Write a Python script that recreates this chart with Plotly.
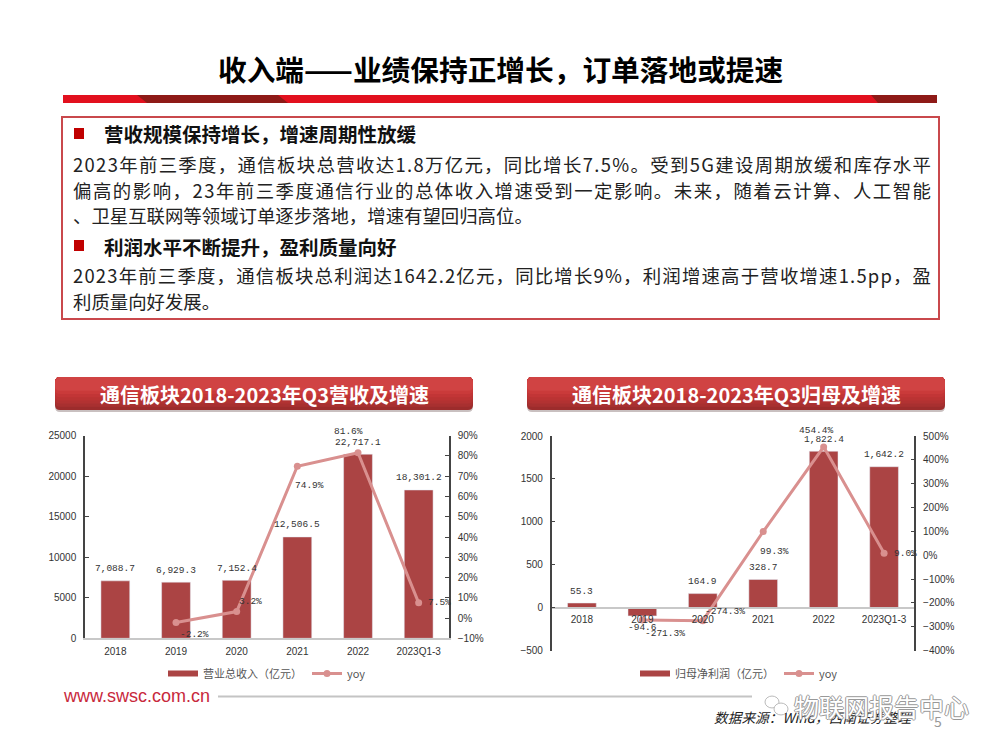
import json
import plotly.graph_objects as go

# ---------- data ----------
categories = ["2018", "2019", "2020", "2021", "2022", "2023Q1-3"]
revenue = [7088.7, 6929.3, 7152.4, 12506.5, 22717.1, 18301.2]
revenue_yoy = [None, -2.2, 3.2, 74.9, 81.6, 7.5]
profit = [55.3, -94.6, 164.9, 328.7, 1822.4, 1642.2]
profit_yoy = [None, -271.3, -274.3, 99.3, 454.4, 9.0]
revenue_name = "营业总收入（亿元）"
profit_name = "归母净利润（亿元）"
yoy_name = "yoy"

title = "收入端——业绩保持正增长，订单落地或提速"
head1 = "营收规模保持增长，增速周期性放缓"
para1 = ["2023年前三季度，通信板块总营收达1.8万亿元，同比增长7.5%。受到5G建设周期放缓和库存水平",
         "偏高的影响，23年前三季度通信行业的总体收入增速受到一定影响。未来，随着云计算、人工智能",
         "、卫星互联网等领域订单逐步落地，增速有望回归高位。"]
head2 = "利润水平不断提升，盈利质量向好"
para2 = ["2023年前三季度，通信板块总利润达1642.2亿元，同比增长9%，利润增速高于营收增速1.5pp，盈",
         "利质量向好发展。"]
chart_title1 = "通信板块2018-2023年Q3营收及增速"
chart_title2 = "通信板块2018-2023年Q3归母及增速"

# ---------- styles ----------
W, H = 1000, 750
CJK = "Noto Sans CJK SC"
BAR = "#AB4444"
LINE = "#D9908F"
def px(v): return v / W
def py(v): return 1 - v / H

fig = go.Figure()

def add_chart(xa, ya, yb, bars, yoy, name, legend):
    fig.add_trace(go.Bar(x=categories, y=bars, marker_color=BAR, width=0.475, showlegend=False,
                         xaxis=xa, yaxis=ya))
    fig.add_trace(go.Scatter(x=[categories[0]], y=[None], name=name, mode="lines",
                             line=dict(color=BAR, width=6), xaxis=xa, yaxis=ya, legend=legend))
    fig.add_trace(go.Scatter(x=categories, y=yoy, name=yoy_name, mode="lines+markers",
                             line=dict(color=LINE, width=3), marker=dict(color=LINE, size=7),
                             xaxis=xa, yaxis=yb, legend=legend))

add_chart("x", "y", "y2", revenue, revenue_yoy, revenue_name, "legend")
add_chart("x2", "y3", "y4", profit, profit_yoy, profit_name, "legend2")

tick = dict(family="Liberation Sans", size=10, color="#333333")
def y_axis(**k):
    return dict(showgrid=False, zeroline=False, showline=True, linecolor="#444444", linewidth=1.5,
                ticks="inside", ticklen=4, tickcolor="#444444", tickfont=tick, tickformat="d",
                ticklabelstandoff=5, **k)

t1, b1 = 435.7, 638.3
t2, b2 = 436.0, 650.7
zero2 = b2 - (b2 - t2) * 500 / 2500

layout = dict(
    width=W, height=H, margin=dict(l=0, r=0, t=0, b=0, autoexpand=False), autosize=False,
    paper_bgcolor="white", plot_bgcolor="rgba(0,0,0,0)", showlegend=True, barmode="overlay",
    xaxis=dict(domain=[px(85), px(449)], anchor="y", showgrid=False, showline=True, linecolor="#C8C8C8",
               linewidth=1.5, ticks="", tickfont=tick, type="category", range=[-0.5, 5.5], ticklabelstandoff=3),
    yaxis=y_axis(domain=[py(b1), py(t1)], anchor="x", range=[0, 25000], dtick=5000),
    yaxis2=y_axis(domain=[py(b1), py(t1)], anchor="x", overlaying="y", side="right", range=[-10, 90],
                  dtick=10, ticksuffix="%"),
    xaxis2=dict(domain=[px(551.7), px(914.3)], anchor="free", position=py(zero2), showgrid=False,
                showline=True, linecolor="#C8C8C8", linewidth=1.5, ticks="", tickfont=tick,
                type="category", range=[-0.5, 5.5], ticklabelstandoff=2),
    yaxis3=y_axis(domain=[py(b2), py(t2)], anchor="x2", range=[-500, 2000], dtick=500),
    yaxis4=y_axis(domain=[py(b2), py(t2)], anchor="x2", overlaying="y3", side="right", range=[-400, 500],
                  dtick=100, ticksuffix="%"),
    legend=dict(orientation="h", x=px(163), y=py(659), xanchor="left", yanchor="top", itemwidth=30,
                font=dict(family=CJK, size=11, color="#555555"), bgcolor="rgba(0,0,0,0)", tracegroupgap=0),
    legend2=dict(orientation="h", x=px(635), y=py(659), xanchor="left", yanchor="top", itemwidth=30,
                 font=dict(family=CJK, size=11, color="#555555"), bgcolor="rgba(0,0,0,0)", tracegroupgap=0),
)
fig.update_layout(**layout)

# ---------- value labels ----------
LABEL = dict(family="Liberation Mono", size=9.5, color="#333333")
def label(xa, ya, i, y, text, dx, dy):
    fig.add_annotation(x=i, y=y, xref=xa, yref=ya, text=text, showarrow=False, xshift=dx, yshift=dy,
                       font=LABEL, xanchor="center", yanchor="middle")

off1 = [None, (18, -12), (14, 10), (12, -19), (-10, 21), (21, 0)]
off2 = [None, (23, -13), (22, 9), (11, -20), (-7, 16), (21, 0)]
for i, c in enumerate(categories):
    label("x", "y", i, revenue[i], f"{revenue[i]:,.1f}", 0, 12)
    dy = 12 if profit[i] >= 0 else -12
    label("x2", "y3", i, profit[i], f"{profit[i]:,.1f}", 0, dy)
    if revenue_yoy[i] is not None:
        label("x", "y2", i, revenue_yoy[i], f"{revenue_yoy[i]:.1f}%", *off1[i])
        label("x2", "y4", i, profit_yoy[i], f"{profit_yoy[i]:.1f}%", *off2[i])

# ---------- slide furniture ----------
shapes = []
def rect(x0, y0, x1, y1, fill=None, line=None, lw=0):
    shapes.append(dict(type="rect", xref="paper", yref="paper", x0=px(x0), x1=px(x1), y0=py(y0), y1=py(y1),
                       fillcolor=fill or "rgba(0,0,0,0)", line=dict(color=line or "rgba(0,0,0,0)", width=lw),
                       layer="below"))
def poly(pts, fill):
    path = "M " + " L ".join(f"{px(a):.5f},{py(b):.5f}" for a, b in pts) + " Z"
    shapes.append(dict(type="path", xref="paper", yref="paper", path=path, fillcolor=fill,
                       line=dict(width=0), layer="below"))
def round_rect(x0, y0, x1, y1, r, fill):
    X = lambda v: f"{px(v):.5f}"
    Y = lambda v: f"{py(v):.5f}"
    path = (f"M {X(x0+r)},{Y(y0)} L {X(x1-r)},{Y(y0)} Q {X(x1)},{Y(y0)} {X(x1)},{Y(y0+r)} "
            f"L {X(x1)},{Y(y1-r)} Q {X(x1)},{Y(y1)} {X(x1-r)},{Y(y1)} L {X(x0+r)},{Y(y1)} "
            f"Q {X(x0)},{Y(y1)} {X(x0)},{Y(y1-r)} L {X(x0)},{Y(y0+r)} Q {X(x0)},{Y(y0)} {X(x0+r)},{Y(y0)} Z")
    shapes.append(dict(type="path", xref="paper", yref="paper", path=path, fillcolor=fill,
                       line=dict(width=0), layer="below"))

# red rule under the title
rect(63, 95, 937, 103, fill="#E2101E")
poly([(137, 95), (278, 95), (288, 103), (147, 103)], "#8E1A17")
poly([(871, 95), (937, 95), (937, 103), (878, 103)], "#8E1A17")

# text box
rect(62, 117, 939, 319, fill="white", line="#C9484C", lw=2)
rect(74, 128, 84, 139, fill="#C00000")
rect(74, 240, 84, 251, fill="#C00000")

# chart headers with stepped gradient
shades = ["#9C2C2C", "#A83030", "#B23232", "#BA3333", "#C23536", "#CA3A3A", "#D04343"]
for x0, x1 in ((55, 473), (527, 945)):
    round_rect(x0, 379, x1, 412, 5, "#C9C0C0")
    for i, s in enumerate(shades):
        round_rect(x0, 377, x1, 410 - i * 3.2, 5, s)

# footer
shapes.append(dict(type="line", xref="paper", yref="paper", x0=px(218), x1=px(752), y0=py(696.5), y1=py(696.5),
                   line=dict(color="#C4C4C4", width=2), layer="below"))
for cx, cy, r in ((772, 702, 7), (781, 709, 7)):
    shapes.append(dict(type="circle", xref="paper", yref="paper", x0=px(cx - r), x1=px(cx + r),
                       y0=py(cy - r * 0.85), y1=py(cy + r * 0.85), fillcolor="white",
                       line=dict(color="#BBBBBB", width=1), layer="below"))
fig.update_layout(shapes=shapes)

def text(x, y, s, size, color="#111111", family=CJK, anchor="left", bold=False, italic=False, shadow=None):
    f = dict(family=family, size=size, color=color, style="italic" if italic else "normal")
    if shadow:
        f["shadow"] = shadow
    fig.add_annotation(xref="paper", yref="paper", x=px(x), y=py(y), text=f"<b>{s}</b>" if bold else s,
                       showarrow=False, xanchor=anchor, yanchor="middle", font=f)

text(500, 69, title, 28.7, "#000000", anchor="center", bold=True)
text(102, 134, head1, 19.5, bold=True)
for y, s in zip((164, 190, 215), para1):
    text(71, y, s, 18.4, "#222222")
text(102, 246, head2, 19.5, bold=True)
for y, s in zip((275, 301), para2):
    text(71, y, s, 18.4, "#222222")
text(264, 394, chart_title1, 20, "white", anchor="center", bold=True)
text(736, 394, chart_title2, 20, "white", anchor="center", bold=True)
text(61, 696, "www.swsc.com.cn", 18, "#C8283C", family="Liberation Sans")
text(712, 717, "数据来源：Wind，西南证券整理", 13.7, "#222222", italic=True)
text(792, 706, "物联网报告中心", 25, "white",
     shadow="-1px 0 #999999, 1px 0 #999999, 0 -1px #999999, 0 1px #999999")
text(932, 721, "5", 14, "#999999")

# full lines of the paragraphs are justified to the width of the box
justified = [para1[0], para1[1], para2[0]]
post = ("document.body.style.margin='0';document.body.style.overflow='hidden';"
        "var J=" + json.dumps(justified, ensure_ascii=False) + ";"
        "document.querySelectorAll('text.annotation-text').forEach(function(e){"
        "if(J.indexOf(e.textContent)>=0){var n=e.getComputedTextLength();"
        "e.setAttribute('x',parseFloat(e.getAttribute('x')||0)+(858-n)/2);"
        "e.setAttribute('textLength','858');e.setAttribute('lengthAdjust','spacing');}});")
fig.write_html("out.html", post_script=post, config=dict(displayModeBar=False))
